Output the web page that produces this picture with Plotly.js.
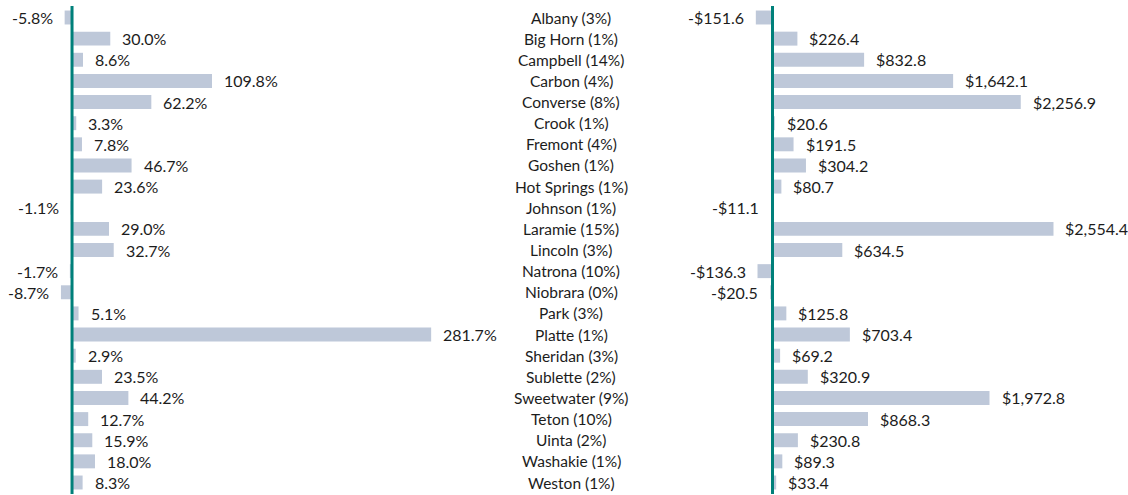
<!DOCTYPE html>
<html>
<head>
<meta charset="utf-8">
<script src="https://cdn.plot.ly/plotly-3.0.1.min.js"></script>
<style>html,body{margin:0;padding:0;background:#fff;}#chart{width:1128px;height:495px;}</style>
</head>
<body>
<div id="chart"></div>
<script>
const categories = ["Albany (3%)","Big Horn (1%)","Campbell (14%)","Carbon (4%)","Converse (8%)","Crook (1%)","Fremont (4%)","Goshen (1%)","Hot Springs (1%)","Johnson (1%)","Laramie (15%)","Lincoln (3%)","Natrona (10%)","Niobrara (0%)","Park (3%)","Platte (1%)","Sheridan (3%)","Sublette (2%)","Sweetwater (9%)","Teton (10%)","Uinta (2%)","Washakie (1%)","Weston (1%)"];
const pctChange = [-5.8,30.0,8.6,109.8,62.2,3.3,7.8,46.7,23.6,-1.1,29.0,32.7,-1.7,-8.7,5.1,281.7,2.9,23.5,44.2,12.7,15.9,18.0,8.3];
const dollarChange = [-151.6,226.4,832.8,1642.1,2256.9,20.6,191.5,304.2,80.7,-11.1,2554.4,634.5,-136.3,-20.5,125.8,703.4,69.2,320.9,1972.8,868.3,230.8,89.3,33.4];

const W = 1128;
const barColor = '#BEC8D9';
const lineColor = '#00807A';
const txtColor = '#1c1c1c';
const font = 'Lato, "Open Sans", sans-serif';

function fmtPct(v){ return v.toFixed(1) + '%'; }
function fmtDol(v){
  return (v < 0 ? '-' : '') + '$' + Math.abs(v).toLocaleString('en-US',{minimumFractionDigits:1,maximumFractionDigits:1});
}

const traces = [
  {type:'bar', orientation:'h', x:pctChange, y:categories, xaxis:'x', yaxis:'y',
   marker:{color:barColor}, hoverinfo:'skip', showlegend:false},
  {type:'bar', orientation:'h', x:dollarChange, y:categories, xaxis:'x2', yaxis:'y',
   marker:{color:barColor}, hoverinfo:'skip', showlegend:false}
];

const annotations = [];
categories.forEach((c,i) => {
  annotations.push({xref:'paper', yref:'y', x:571/W, y:c, text:c, showarrow:false,
    xanchor:'center', yanchor:'middle', font:{family:font, size:15.5, color:txtColor}});
  const p = pctChange[i];
  annotations.push({xref:'x', yref:'y', x:p, y:c, text:fmtPct(p), showarrow:false,
    xanchor: p<0?'right':'left', xshift: p<0?-10:10, yanchor:'middle',
    font:{family:font, size:16, color:txtColor}});
  const d = dollarChange[i];
  annotations.push({xref:'x2', yref:'y', x:d, y:c, text:fmtDol(d), showarrow:false,
    xanchor: d<0?'right':'left', xshift: d<0?-10:10, yanchor:'middle',
    font:{family:font, size:16, color:txtColor}});
});

const layout = {
  width:1128, height:495,
  margin:{l:0, r:0, t:6, b:1},
  paper_bgcolor:'#fff', plot_bgcolor:'rgba(0,0,0,0)',
  bargap:0.34,
  xaxis:{domain:[0, 500/W], range:[-56.5, 335.7], visible:false, fixedrange:true},
  xaxis2:{domain:[660/W, 1], range:[-1022.7, 3231.8], visible:false, anchor:'y', fixedrange:true},
  yaxis:{autorange:'reversed', visible:false, fixedrange:true},
  shapes:[
    {type:'line', xref:'x', yref:'paper', x0:0, x1:0, y0:0, y1:1, layer:'above',
     line:{color:lineColor, width:3}},
    {type:'line', xref:'x2', yref:'paper', x0:0, x1:0, y0:0, y1:1, layer:'above',
     line:{color:lineColor, width:3}}
  ],
  annotations: annotations,
  showlegend:false
};

Plotly.newPlot('chart', traces, layout, {displayModeBar:false, staticPlot:true});
</script>
</body>
</html>
